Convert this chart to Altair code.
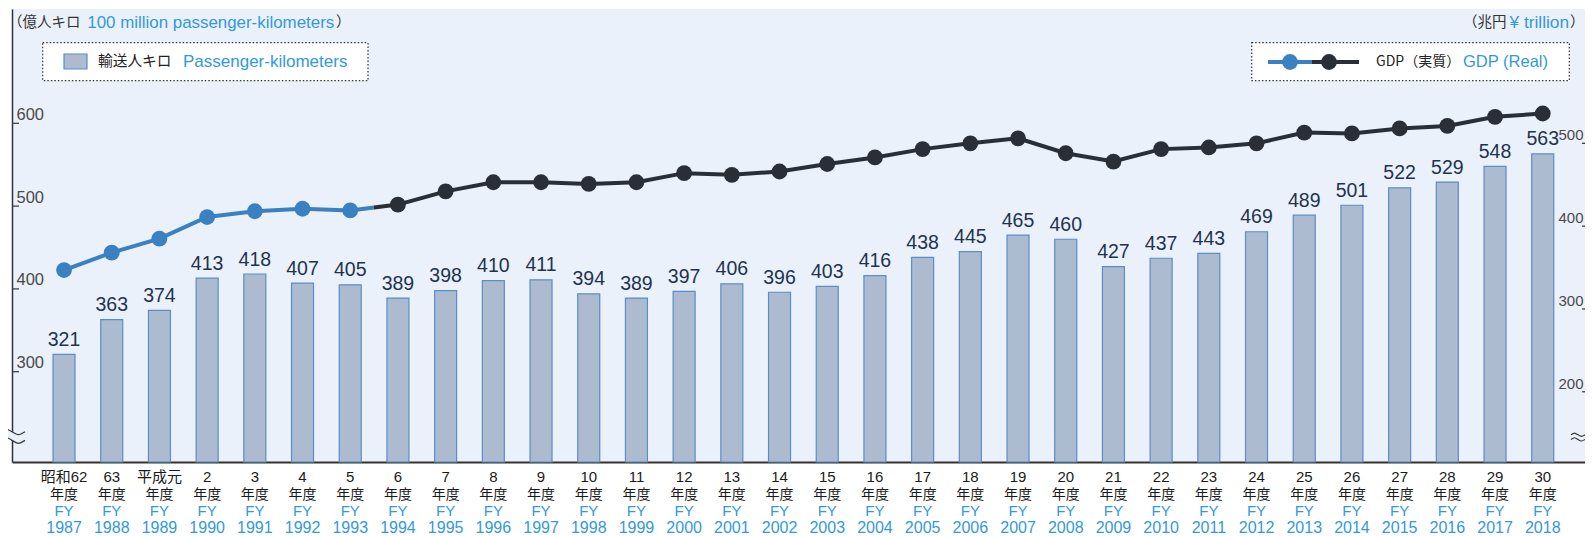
import altair as alt
import pandas as pd

# ---------------- data ----------------
fy = [str(y) for y in range(1987, 2019)]
era = ["昭和62", "63", "平成元"] + [str(i) for i in range(2, 31)]
pkm = [321, 363, 374, 413, 418, 407, 405, 389, 398, 410, 411, 394, 389, 397, 406, 396,
       403, 416, 438, 445, 465, 460, 427, 437, 443, 469, 489, 501, 522, 529, 548, 563]
gdp = [347, 368, 385, 411, 418, 421, 419, 426, 442, 453, 453, 451, 453, 464, 462, 466,
       475, 483, 493, 500, 506, 488, 478, 493, 495, 500, 513, 512, 518, 521, 532, 536]
period = ["showa_heisei_early"] * 7 + ["later"] * 25
left_ticks = [300, 400, 500, 600]
right_ticks = [200, 300, 400, 500]

# ---------------- style ----------------
W, H = 1573, 453
BG = "#eaf1fa"
BLUE = "#3b80c0"
DARK = "#2a2e37"
SKY = "#3399dd"
BAR_FILL = "#adbbd0"
BAR_STROKE = "#5b8dc6"
LABEL = "#1f3350"
LAT = "Liberation Sans, Noto Sans CJK JP, sans-serif"
CJK = "Noto Sans CJK JP, sans-serif"
NARROW = "Liberation Sans Narrow, Liberation Sans, sans-serif"
LEFT_DOM = [191, 738]
RIGHT_DOM = [115.2, 662.2]

df = pd.DataFrame({"fy": fy, "era": era, "pkm": pkm, "gdp": gdp, "period": period})
df_blue = df.iloc[0:7]
df_trans = df.iloc[6:8]
df_dark = df.iloc[7:]
one = pd.DataFrame({"a": [0]})

xscale = alt.Scale(domain=fy, paddingInner=0.539, paddingOuter=0.758, align=0.5675)
xaxis = alt.Axis(labels=False, ticks=False, domain=True, domainColor="#333",
                 domainWidth=2, title=None, grid=False)


def X():
    return alt.X("fy:N", scale=xscale, axis=xaxis, title=None)


lscale = alt.Scale(domain=LEFT_DOM, nice=False, zero=False)
rscale = alt.Scale(domain=RIGHT_DOM, nice=False, zero=False)
laxis = alt.Axis(orient="left", values=left_ticks, title=None, ticks=False, tickSize=0,
                 labelAlign="left", labelPadding=-4, labelBaseline="alphabetic",
                 labelOffset=-4, labelFontSize=16.5, labelFont=NARROW, labelColor="#4a4a4a",
                 domainColor="#333", domainWidth=1.5, grid=False, labelOverlap=False)
raxis = alt.Axis(orient="right", values=right_ticks, title=None, ticks=False, tickSize=0,
                 domain=False, labelAlign="right", labelPadding=-2,
                 labelBaseline="alphabetic", labelOffset=-3.5, labelFontSize=15,
                 labelFont=NARROW, labelColor="#4a4a4a", grid=False, labelOverlap=False)

# ---------------- left group: bars ----------------
bars = alt.Chart(df).mark_bar(fill=BAR_FILL, stroke=BAR_STROKE, strokeWidth=1.2).encode(
    x=X(),
    y=alt.Y("pkm:Q", scale=lscale, axis=laxis, title=None),
    y2=alt.datum(LEFT_DOM[0]),
)
bar_labels = alt.Chart(df).mark_text(baseline="alphabetic", dy=-8.5, fontSize=19.5,
                                     font=LAT, color=LABEL).encode(
    x=X(),
    y=alt.Y("pkm:Q", scale=lscale, axis=laxis, title=None),
    text=alt.Text("pkm:Q"),
)
lt = alt.Chart(pd.DataFrame({"v": left_ticks})).mark_rule(color="#333", strokeWidth=1.2).encode(
    y=alt.Y("v:Q", scale=lscale, axis=laxis, title=None),
    x=alt.value(0), x2=alt.value(7),
)
WAVE_FILL = ("M-1,-0.33 C-0.5,-0.63 -0.5,-0.63 0,-0.33 C0.5,-0.03 0.5,-0.03 1,-0.33 "
             "L1,0.33 C0.5,0.63 0.5,0.63 0,0.33 C-0.5,0.03 -0.5,0.03 -1,0.33 Z")
WAVES = ("M-1,-0.33 C-0.5,-0.63 -0.5,-0.63 0,-0.33 C0.5,-0.03 0.5,-0.03 1,-0.33 "
         "M-1,0.33 C-0.5,0.03 -0.5,0.03 0,0.33 C0.5,0.63 0.5,0.63 1,0.33")
lbreak_fill = alt.Chart(one).mark_point(shape=WAVE_FILL, filled=True, fill=BG, size=676,
                                        strokeWidth=0, opacity=1).encode(
    x=alt.value(0), y=alt.Y(datum=222.3, type="quantitative", scale=lscale, axis=laxis, title=None))
lbreak = alt.Chart(one).mark_point(shape=WAVES, filled=False, stroke="#333", size=676,
                                   strokeWidth=1.2, opacity=1).encode(
    x=alt.value(0), y=alt.Y(datum=222.3, type="quantitative", scale=lscale, axis=laxis, title=None))
left_group = alt.layer(bars, bar_labels, lt, lbreak_fill, lbreak)


# ---------------- right group: GDP line ----------------
def YR(field="gdp"):
    return alt.Y(f"{field}:Q", scale=rscale, axis=raxis, title=None)


line_blue = alt.Chart(df_blue).mark_line(color=BLUE, strokeWidth=4).encode(x=X(), y=YR())
line_trans = alt.Chart(df_trans).mark_line(
    stroke=alt.Gradient(gradient="linear",
                        stops=[alt.GradientStop(color=BLUE, offset=0),
                               alt.GradientStop(color=BLUE, offset=0.5),
                               alt.GradientStop(color=DARK, offset=0.5),
                               alt.GradientStop(color=DARK, offset=1)],
                        x1=0, x2=1, y1=0, y2=0),
    strokeWidth=4).encode(x=X(), y=YR())
line_dark = alt.Chart(df_dark).mark_line(color=DARK, strokeWidth=4).encode(x=X(), y=YR())
pts = alt.Chart(df).mark_circle(size=250, opacity=1).encode(
    x=X(), y=YR(),
    color=alt.Color("period:N", scale=alt.Scale(domain=["showa_heisei_early", "later"],
                                                range=[BLUE, DARK]), legend=None),
)
rt = alt.Chart(pd.DataFrame({"v": right_ticks})).mark_rule(color="#333", strokeWidth=1.2).encode(
    y=YR("v"), x=alt.value(W - 3), x2=alt.value(W),
)
rbreak = alt.Chart(one).mark_point(shape=WAVES, filled=False, stroke="#333", size=200,
                                   strokeWidth=1.1, opacity=1).encode(
    x=alt.value(W - 7), y=alt.Y(datum=145.3, type="quantitative", scale=rscale, axis=raxis, title=None))
right_group = alt.layer(line_blue, line_trans, line_dark, pts, rt, rbreak)


# ---------------- decorations (text, legend boxes) ----------------
def txt(s, x, y, color, size, font=LAT, align="left", baseline="middle"):
    return alt.Chart(one).mark_text(text=s, align=align, baseline=baseline, fontSize=size,
                                    color=color, font=font).encode(x=alt.value(x), y=alt.value(y))


def box(x1, x2, y1, y2, fill, stroke, dash=None, sw=1.0):
    kw = dict(fill=fill, stroke=stroke, strokeWidth=sw)
    if dash:
        kw["strokeDash"] = dash
    return alt.Chart(one).mark_rect(**kw).encode(
        x=alt.value(x1), x2=alt.value(x2), y=alt.value(y1), y2=alt.value(y2))


def hrule(x1, x2, y, color, sw):
    return alt.Chart(one).mark_rule(color=color, strokeWidth=sw).encode(
        x=alt.value(x1), x2=alt.value(x2), y=alt.value(y))


def dot(x, y, color):
    return alt.Chart(one).mark_circle(size=250, color=color, opacity=1).encode(
        x=alt.value(x), y=alt.value(y))


decor = [
    # unit captions
    txt("（億人キロ", -4, 14, "#333", 14.5, font=CJK),
    txt("100 million passenger-kilometers", 75.3, 14, SKY, 16.9),
    txt("）", 324, 14, "#333", 14.5, font=CJK),
    txt("（兆円", 1451, 14, "#333", 14.5, font=CJK),
    txt("¥ trillion", 1497.5, 14, SKY, 17.3),
    txt("）", 1558, 14, "#333", 14.5, font=CJK),
    # left legend
    box(30.7, 356, 33.7, 71.7, "white", "#333", [1.5, 2], 1.2),
    box(52, 75, 45, 60, BAR_FILL, BAR_STROKE, None, 1.2),
    txt("輸送人キロ", 86, 53, "#222", 14.7, font=CJK),
    txt("Passenger-kilometers", 171, 53, SKY, 17),
    # right legend
    box(1239.7, 1557.3, 33.7, 71.7, "white", "#333", [1.5, 2], 1.2),
    hrule(1256, 1300, 53, BLUE, 4),
    hrule(1300, 1347, 53, DARK, 4),
    dot(1278, 53, BLUE),
    dot(1317, 53, DARK),
    txt("GDP（実質）", 1364, 53, "#222", 14, font=CJK),
    txt("GDP (Real)", 1451, 53, SKY, 16.5),
]

# x category labels (4 lines)
xl1 = alt.Chart(df).mark_text(baseline="middle", fontSize=15, font=LAT, color="#1a1a1a").encode(
    x=X(), y=alt.value(468), text="era:N")
xl2 = alt.Chart(df).mark_text(text="年度", baseline="middle", fontSize=14, font=CJK,
                              color="#1a1a1a").encode(x=X(), y=alt.value(486))
xl3 = alt.Chart(df).mark_text(text="FY", baseline="middle", fontSize=15, font=LAT,
                              color=SKY).encode(x=X(), y=alt.value(502))
xl4 = alt.Chart(df).mark_text(baseline="middle", fontSize=16, font=LAT, color=SKY).encode(
    x=X(), y=alt.value(518.5), text="fy:N")

chart = alt.layer(left_group, right_group, *decor, xl1, xl2, xl3, xl4).resolve_scale(
    y="independent"
).properties(
    width=W, height=H,
    autosize=alt.AutoSizeParams(type="none"),
    padding={"left": 4, "top": 1, "right": 0, "bottom": 74},
).configure_view(fill=BG, stroke=None).configure_axis(grid=False)

chart.save("out.html", embed_options={"renderer": "svg", "actions": False})
